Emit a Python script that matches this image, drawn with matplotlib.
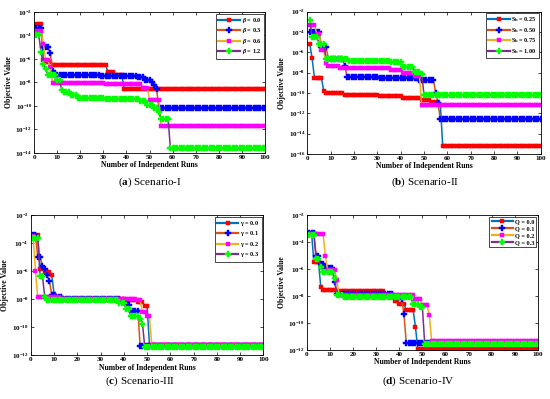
import numpy as np
import matplotlib
matplotlib.use('Agg')
import matplotlib.pyplot as plt

plt.rcParams['font.family'] = ['Liberation Serif', 'DejaVu Serif']
plt.rcParams['font.weight'] = 'bold'
plt.rcParams['mathtext.fontset'] = 'custom'
plt.rcParams['mathtext.rm'] = 'Liberation Serif'
plt.rcParams['mathtext.it'] = 'Liberation Serif:italic:bold'
plt.rcParams['mathtext.bf'] = 'Liberation Serif:bold'

runs = np.arange(1, 101)

# (a) Scenario-I, beta
a_labels = [r'$\mathit{\beta}$ = 0.0', r'$\mathit{\beta}$ = 0.3',
            r'$\mathit{\beta}$ = 0.6', r'$\mathit{\beta}$ = 1.2']
a_b00 = [1e-3]*3 + [8e-7] + [6e-7]*3 + [3.2e-7]*12 + [3e-7]*12 + [7e-8]*3 + [4.5e-8]*4 + [2.6e-9]*62
a_b03 = ([4e-4]*3 + [1e-5]*3 + [3e-6] + [1e-7] + [4e-8]*20 + [3.5e-8]*16 + [3e-8]*3
         + [1.5e-8]*3 + [1e-8] + [6e-9] + [3e-9] + [6e-11]*47)
a_b06 = ([2.3e-4]*3 + [2e-5] + [8e-7]*2 + [2e-7] + [9e-9]*23 + [7e-9]*16 + [3.5e-9]*3
         + [3e-10]*5 + [1.8e-12]*46)
a_b12 = ([1.2e-4]*2 + [4e-6] + [3.5e-7] + [1.5e-7] + [4e-8]*4 + [1.5e-8]*2 + [2.3e-9]
         + [1.5e-9]*3 + [9e-10]*3 + [5e-10]*12 + [4e-10]*15 + [2.5e-10]*3 + [1.2e-10]*3
         + [6e-11]*2 + [3e-11] + [8e-12]*4 + [2.5e-14]*42)

# (b) Scenario-II, S_h
b_labels = [r'S$_\mathbf{h}$ = 0.25', r'S$_\mathbf{h}$ = 0.50',
            r'S$_\mathbf{h}$ = 0.75', r'S$_\mathbf{h}$ = 1.00']
b_s025 = ([7e-6] + [2.5e-7] + [3e-9]*4 + [1.5e-10] + [1e-10]*8 + [6e-11]*15 + [5e-11]*10
          + [3.5e-11]*8 + [2e-11]*4 + [1.2e-11]*4 + [7e-12] + [6e-16]*43)
b_s050 = ([1e-4]*5 + [3.5e-6] + [3e-6]*2 + [2e-7]*7 + [5e-8] + [4e-9]*14 + [3e-9]*17
          + [2e-9]*7 + [1e-10] + [1e-11] + [2.5e-13]*44)
b_s075 = ([5e-4]*3 + [6e-5]*2 + [1.5e-6]*2 + [8e-8] + [5e-8]*5 + [3e-8]*22 + [2e-8]*5
          + [1e-8]*5 + [5e-9]*3 + [6e-12]*52)
b_s100 = ([1.5e-3] + [3.5e-5]*3 + [7e-6]*3 + [2e-7]*10 + [1.5e-7]*18 + [1e-7]*5
          + [3.5e-8]*5 + [1.2e-8]*3 + [8e-9] + [6e-11]*51)

# (c) Scenario-III, gamma
c_labels = [r'$\mathbf{\gamma}$ = 0.0', r'$\mathbf{\gamma}$ = 0.1',
            r'$\mathbf{\gamma}$ = 0.2', r'$\mathbf{\gamma}$ = 0.3']
c_g00 = ([3.5e-4]*3 + [1.5e-6]*2 + [8e-7]*3 + [5e-7] + [2.5e-8] + [1.1e-8]*30 + [9e-9]*5
         + [6e-9]*3 + [3e-9]*2 + [5.5e-12]*50)
c_g01 = ([3.5e-4]*2 + [1e-5]*2 + [2.5e-6] + [1.5e-6] + [5e-7] + [2e-7] + [2e-8]*2
         + [1.5e-8]*3 + [1.05e-8]*25 + [6e-9]*3 + [3.5e-9] + [1.5e-9]*4 + [4.5e-12]*54)
c_g02 = ([3e-4] + [1e-6] + [1.3e-8]*10 + [1.05e-8]*33 + [8e-9]*2 + [1.2e-9]*2
         + [6e-10]*2 + [5e-12]*49)
c_g03 = ([2.2e-4]*3 + [4.5e-7]*2 + [1.5e-8] + [9e-9]*14 + [8e-9]*17 + [5e-9]*3 + [2e-9]*2
         + [6e-10]*4 + [4e-10] + [1.8e-10] + [3.5e-12]*52)

# (d) Scenario-IV, Q
d_labels = ['Q = 0.0', 'Q = 0.1', 'Q = 0.2', 'Q = 0.3']
d_q00 = ([5e-4]*2 + [3.5e-6]*3 + [5e-8] + [3e-8]*6 + [2.2e-8]*21 + [1.2e-8]*4 + [4e-9]*2
         + [2.5e-9]*3 + [9e-10]*4 + [5e-11] + [1.1e-12]*53)
d_q01 = ([5e-4]*3 + [1e-5]*2 + [2.5e-6]*2 + [1.2e-6]*4 + [1e-7] + [1.5e-8]*25 + [8e-9]*3
         + [6e-9] + [5e-10] + [3.5e-12]*58)
d_q02 = ([4e-4]*7 + [1e-5] + [8e-7]*4 + [1.5e-7] + [1.1e-8]*33 + [6e-9]*3 + [2e-9]*3
         + [4e-10] + [4.5e-12]*47)
d_q03 = ([3.5e-4]*3 + [6e-6]*2 + [1.5e-6] + [6e-7]*5 + [2e-7] + [1.2e-8]*3 + [8e-9]*30
         + [2.5e-9]*3 + [1.5e-9]*2 + [2.8e-12]*50)

line_colors = ['#0072BD', '#D95319', '#EDB120', '#7E2F8E']
marker_colors = ['#FF0000', '#0000FF', '#FF00FF', '#00FF00']
markers = ['s', 'P', 's', 'P']
msizes = [3.0, 3.8, 2.4, 3.8]

panels = [
    ([0.062, 0.617, 0.420, 0.353], [a_b00, a_b03, a_b06, a_b12], a_labels, -14, 'a', 'Scenario-I', (150, 182)),
    ([0.559, 0.614, 0.424, 0.357], [b_s025, b_s050, b_s075, b_s100], b_labels, -16, 'b', 'Scenario-II', (425, 182)),
    ([0.056, 0.110, 0.423, 0.351], [c_g00, c_g01, c_g02, c_g03], c_labels, -12, 'c', 'Scenario-III', (140, 381)),
    ([0.558, 0.123, 0.420, 0.338], [d_q00, d_q01, d_q02, d_q03], d_labels, -12, 'd', 'Scenario-IV', (418, 381)),
]

fig = plt.figure(figsize=(5.5, 3.99), dpi=100)

for rect, series, labels, ymin_exp, letter, name, cap in panels:
    ax = fig.add_axes(rect)
    for k in range(4):
        ax.plot(runs, series[k], color=line_colors[k], lw=1.1,
                marker=markers[k], ms=msizes[k], mfc=marker_colors[k],
                mec=marker_colors[k], mew=0.3, label=labels[k])
    ax.set_yscale('log')
    ax.set_xlim(0, 100)
    ax.set_ylim(10.0 ** ymin_exp, 1e-2)
    ax.set_xticks(np.arange(0, 101, 10))
    ax.set_xticklabels([str(v) for v in range(0, 101, 10)], fontsize=5, fontweight='bold')
    exps = list(range(ymin_exp, -1, 2))
    ax.set_yticks([10.0 ** e for e in exps])
    ax.set_yticklabels([r'$\mathbf{10^{%d}}$' % e for e in exps], fontsize=5)
    ax.minorticks_off()
    ax.tick_params(direction='in', length=2, width=0.5, pad=1.5, top=True, right=True)
    for sp in ax.spines.values():
        sp.set_linewidth(0.6)
    ax.set_xlabel('Number of Independent Runs', fontsize=5.5, fontweight='bold', labelpad=1)
    ax.set_ylabel('Objective Value', fontsize=5.5, fontweight='bold', labelpad=2)
    leg = ax.legend(loc='upper right', fontsize=4.5, fancybox=False, edgecolor='black',
                    framealpha=1, handlelength=3.4, handletextpad=0.3, borderpad=0.35,
                    labelspacing=0.25, borderaxespad=0.25)
    leg.get_frame().set_linewidth(0.5)
    for h in leg.get_lines():
        h.set_linewidth(1.6)
    fig.text(cap[0] / 550, 1 - cap[1] / 399, '(' + r'$\mathbf{%s}$' % letter + ') ' + name,
             fontsize=8, fontweight='normal', ha='center', va='center')

fig.savefig('out.png', dpi=100)
